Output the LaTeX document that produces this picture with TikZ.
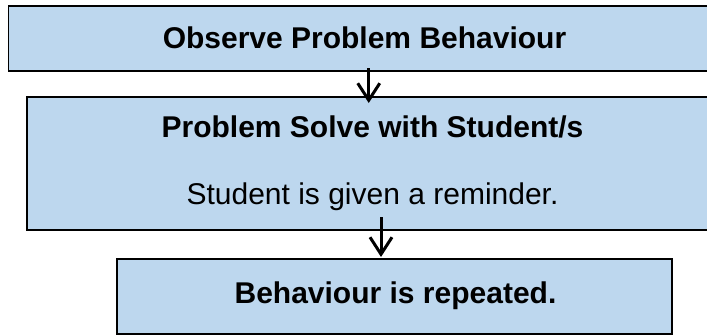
\documentclass[tikz,border=0pt]{standalone}
\usepackage{fontspec}
\setmainfont{Liberation Sans}
\usetikzlibrary{arrows.meta}
\definecolor{boxblue}{RGB}{189,215,238}
\tikzset{
  flowbox/.style={draw=black, line width=1.5bp, fill=boxblue, rectangle, inner sep=0pt, outer sep=0pt},
  txt/.style={font=\fontsize{30bp}{36bp}\selectfont, inner sep=0pt, anchor=base, text=black},
  btxt/.style={txt, font=\fontsize{30bp}{36bp}\selectfont\bfseries},
  arr/.style={draw=black, line width=3bp, -{Straight Barb[length=17bp,width=22bp,line width=3bp]}}
}
\begin{document}
\begin{tikzpicture}[x=1bp,y=-1bp]
\useasboundingbox (0,0) rectangle (707,335);
\node[flowbox, minimum width=711.5bp, minimum height=65bp] (b1) at (364.25,38.5) {};
\node[flowbox, minimum width=691bp, minimum height=133bp] (b2) at (372.5,163.5) {};
\node[flowbox, minimum width=555bp, minimum height=75bp] (b3) at (394.5,296.5) {};
\node[btxt] (t1) at (364.5,48) {Observe Problem Behaviour};
\node[btxt] (t2) at (372.5,137) {Problem Solve with Student/s};
\node[txt] (t3) at (372.5,204) {Student is given a reminder.};
\node[btxt] (t4) at (395.5,303) {Behaviour is repeated.};
\path (b1.south) ++(4.5,-3) coordinate (a1s);
\path (a1s |- b2.north) ++(0,6) coordinate (a1e);
\path (b2.south) ++(8.5,-13) coordinate (a2s);
\path (a2s |- b3.north) ++(0,-2) coordinate (a2e);
\draw[arr] (a1s) -- (a1e);
\draw[arr] (a2s) -- (a2e);
\end{tikzpicture}
\end{document}
